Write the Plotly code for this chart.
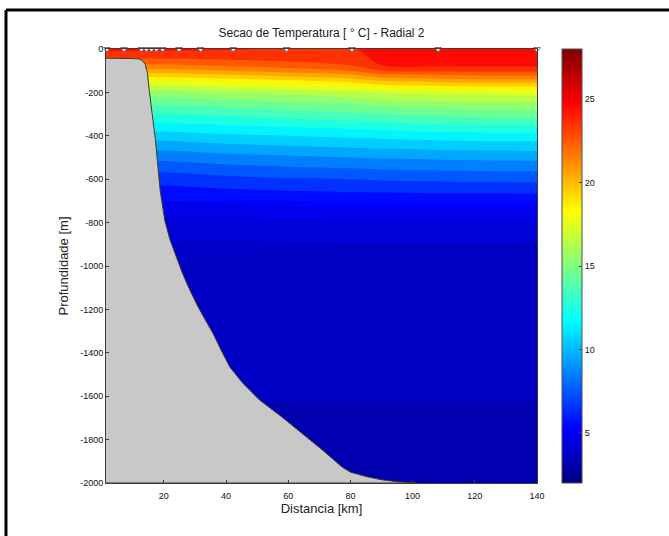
import plotly.graph_objects as go

# ---------------- data ----------------
distance_km = [0, 20, 40, 60, 80, 90, 110, 140]
depth_m = [0, -25, -50, -75, -100, -150, -200, -250, -300, -400, -500, -600,
           -700, -800, -900, -1000, -1200, -1500, -1650, -2000]
# temperature [degC] rows follow depth_m, columns follow distance_km
temp_rows = [
    [24.2, 24.2, 24.1, 23.9, 23.8, 24.6, 24.8, 24.8],
    [23.6, 23.6, 23.6, 23.6, 23.6, 24.5, 24.7, 24.7],
    [22.8, 22.8, 23.0, 23.2, 23.4, 24.3, 24.5, 24.5],
    [21.8, 21.8, 22.2, 22.5, 23.0, 24.0, 24.2, 24.2],
    [20.6, 20.6, 21.0, 21.5, 22.0, 23.0, 23.2, 23.3],
    [17.8, 17.8, 18.2, 18.6, 19.2, 19.8, 20.2, 20.4],
    [15.6, 15.6, 16.0, 16.3, 16.7, 17.0, 17.2, 17.4],
    [14.2, 14.2, 14.5, 14.8, 15.1, 15.4, 15.7, 15.9],
    [13.0, 13.0, 13.2, 13.5, 13.8, 14.0, 14.3, 14.5],
    [10.5, 10.5, 10.8, 11.0, 11.2, 11.3, 11.5, 11.6],
    [8.3, 8.3, 8.6, 8.8, 9.0, 9.1, 9.2, 9.3],
    [6.4, 6.4, 6.7, 6.9, 7.0, 7.1, 7.2, 7.3],
    [5.0, 5.0, 5.1, 5.2, 5.3, 5.3, 5.35, 5.35],
    [4.3, 4.3, 4.35, 4.4, 4.45, 4.45, 4.45, 4.45],
    [3.95, 3.95, 3.95, 3.95, 3.97, 3.97, 3.97, 3.97],
    [3.85, 3.85, 3.85, 3.85, 3.85, 3.85, 3.85, 3.85],
    [3.8, 3.8, 3.8, 3.8, 3.8, 3.8, 3.8, 3.8],
    [3.75, 3.75, 3.75, 3.75, 3.75, 3.75, 3.75, 3.75],
    [3.45, 3.45, 3.45, 3.45, 3.45, 3.45, 3.45, 3.45],
    [3.2, 3.2, 3.2, 3.2, 3.2, 3.2, 3.2, 3.2],
]
deep_start_index = 12  # rows from -700 m downward get finer contour levels

bathy_km = [0, 2, 10, 12, 13, 14, 14.7, 15.3, 16.3, 17.3, 18.8, 20.3, 22,
            24, 25.9, 28, 30.7, 33, 35.8, 38.5, 41.2, 45.4, 50.8, 58, 64.5,
            71, 77.3, 80, 85, 90, 95, 101]
bathy_depth = [-42, -42, -44, -46, -52, -70, -110, -190, -310, -420, -650,
               -790, -880, -960, -1030, -1100, -1180, -1240, -1310, -1390,
               -1465, -1540, -1618, -1696, -1770, -1848, -1926, -1950,
               -1970, -1985, -1994, -2000]

station_km = [1.7, 7.2, 12.8, 14.4, 16.0, 17.6, 19.6, 24.9, 31.8, 42.3,
              59.5, 80.5, 108.2, 140]

y_ticks = [0, -200, -400, -600, -800, -1000, -1200, -1400, -1600, -1800, -2000]
y_tick_text = ["0", "-200", "-400", "-600", "-800", "-1000", "-1200",
               "-1400", "-1600", "-1800", "-2000"]
x_ticks = [20, 40, 60, 80, 100, 120, 140]
cb_ticks = [5, 10, 15, 20, 25]

# ---------------- styling ----------------
jet = [[0.0, "rgb(0,0,128)"], [0.125, "rgb(0,0,255)"], [0.375, "rgb(0,255,255)"],
       [0.625, "rgb(255,255,0)"], [0.875, "rgb(255,0,0)"], [1.0, "rgb(128,0,0)"]]
FONT = "Liberation Sans, Arial, sans-serif"

fig = go.Figure()

fig.add_trace(go.Contour(
    x=distance_km, y=depth_m, z=temp_rows,
    colorscale=jet, zmin=2, zmax=28, zauto=False,
    contours=dict(start=2, end=28, size=1, coloring="fill", showlines=False),
    line=dict(width=0), showscale=False, hoverinfo="skip",
))
# finer levels in the deep, weakly stratified layer
fig.add_trace(go.Contour(
    x=distance_km, y=depth_m[deep_start_index:], z=temp_rows[deep_start_index:],
    colorscale=jet, zmin=2, zmax=28, zauto=False,
    contours=dict(start=2, end=28, size=0.5, coloring="fill", showlines=False),
    line=dict(width=0), showscale=False, hoverinfo="skip",
))

# bathymetry (gray land)
poly_x = bathy_km + [bathy_km[-1], 0]
poly_y = bathy_depth + [-2000, -2000]
fig.add_trace(go.Scatter(
    x=poly_x, y=poly_y, mode="lines", fill="toself",
    fillcolor="rgb(200,200,200)", line=dict(color="rgb(60,60,40)", width=1),
    hoverinfo="skip", showlegend=False,
))

# stations
fig.add_trace(go.Scatter(
    x=station_km, y=[0] * len(station_km), mode="markers",
    marker=dict(symbol="triangle-down", size=6, color="white",
                line=dict(color="rgb(120,120,120)", width=1)),
    cliponaxis=False, hoverinfo="skip", showlegend=False,
))

# colorbar carrier
fig.add_trace(go.Scatter(
    x=[50, 50], y=[-1000, -1000], mode="markers",
    marker=dict(color=[2, 28], colorscale=jet, cmin=2, cmax=28, size=1,
                opacity=0, showscale=True,
                colorbar=dict(x=1.058, xanchor="left", y=0.5, yanchor="middle",
                              len=1.0, lenmode="fraction", thickness=20,
                              ypad=0, xpad=0,
                              outlinewidth=1, outlinecolor="rgb(80,80,80)",
                              tickvals=cb_ticks, ticks="inside", ticklen=3,
                              tickcolor="rgb(60,60,60)",
                              tickfont=dict(family=FONT, size=9, color="#111"))),
    hoverinfo="skip", showlegend=False,
))

fig.update_layout(
    width=669, height=536,
    margin=dict(l=106, r=132, t=49, b=53),
    paper_bgcolor="white", plot_bgcolor="white",
    title=dict(text="Secao de Temperatura [ ° C] - Radial 2", x=0.5, xref="paper",
               y=1 - 33 / 536, yref="container", xanchor="center", yanchor="middle",
               font=dict(family=FONT, size=12, color="#222")),
    showlegend=False,
    font=dict(family=FONT),
    shapes=[
        dict(type="line", xref="paper", yref="paper", x0=-0.232, x1=-0.232,
             y0=-0.3, y1=1.09, line=dict(color="black", width=3)),
        dict(type="line", xref="paper", yref="paper", x0=-0.232, x1=1.4,
             y0=1.09, y1=1.09, line=dict(color="black", width=3)),
    ],
)

fig.update_xaxes(
    range=[1.4, 140], tickvals=x_ticks, ticks="inside", ticklen=3,
    tickcolor="rgb(60,60,60)", showgrid=False, zeroline=False,
    showline=True, linecolor="rgb(60,60,60)", linewidth=1, mirror=True,
    tickfont=dict(family=FONT, size=9, color="#111"), ticklabelstandoff=4,
    title=dict(text="Distancia [km]", font=dict(family=FONT, size=13, color="#222"),
               standoff=4),
)
fig.update_yaxes(
    range=[-2000, 0], tickvals=y_ticks, ticktext=y_tick_text, ticks="inside",
    ticklen=3, tickcolor="rgb(60,60,60)", showgrid=False, zeroline=False,
    showline=True, linecolor="rgb(60,60,60)", linewidth=1, mirror=True,
    tickfont=dict(family=FONT, size=9, color="#111"),
    title=dict(text="Profundidade [m]", font=dict(family=FONT, size=13, color="#222"),
               standoff=8),
)

fig.write_html("out.html")
